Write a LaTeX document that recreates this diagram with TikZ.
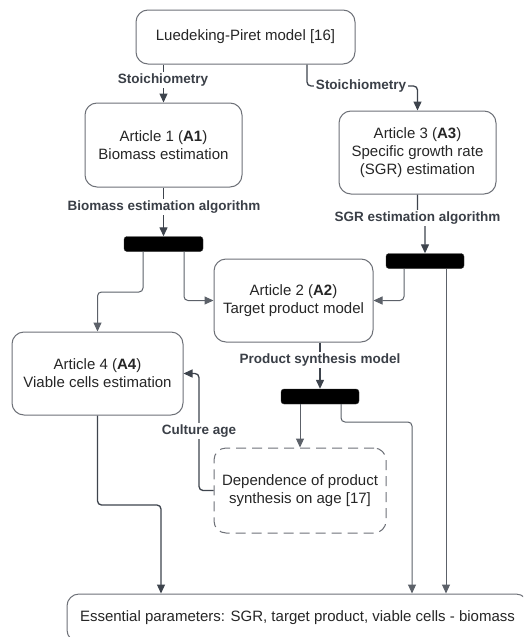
\documentclass[tikz,border=0pt]{standalone}
\usepackage{fontspec}
\setmainfont{Liberation Sans}
\usetikzlibrary{arrows.meta}
\definecolor{boxc}{HTML}{6E7178}
\definecolor{linec}{HTML}{3E444D}
\definecolor{linel}{HTML}{5C6169}
\definecolor{lblc}{HTML}{3A3F47}
\begin{document}
\begin{tikzpicture}[x=1pt,y=-1pt,
 box/.style={draw=boxc, line width=1pt, rounded corners=12pt, fill=white, align=center, inner sep=0pt, font=\fontsize{15}{18}\selectfont, text=black!85},
 bar/.style={fill=black, draw=black!80, rounded corners=3pt, minimum width=79pt, minimum height=15pt, inner sep=0pt},
 lbl/.style={fill=white, inner sep=1.5pt, font=\bfseries\fontsize{13.5}{16}\selectfont, text=lblc},
 conn/.style={draw=linec, line width=1.3pt, rounded corners=4pt, -{Triangle[length=9pt,width=8pt]}},
 connl/.style={draw=linel, line width=1pt, rounded corners=4pt, -{Triangle[length=9pt,width=8pt]}},
]
\clip (0,0) rectangle (523,637);
\fill[white] (0,0) rectangle (523,637);
% nodes
\node[box, minimum width=219pt, minimum height=54pt] (lp) at (245.5,37) {Luedeking-Piret model [16]};
\node[box, minimum width=157pt, minimum height=84pt] (a1) at (163.5,145) {Article 1 (\textbf{A1})\\Biomass estimation};
\node[box, minimum width=157pt, minimum height=83pt] (a3) at (417.5,152.5) {Article 3 (\textbf{A3})\\Specific growth rate\\(SGR) estimation};
\node[box, minimum width=159pt, minimum height=83pt] (a2) at (293.5,300.5) {Article 2 (\textbf{A2})\\Target product model};
\node[box, minimum width=171pt, minimum height=83pt] (a4) at (97.5,373.5) {Article 4 (\textbf{A4})\\Viable cells estimation};
\node[box, dash pattern=on 10pt off 6pt, minimum width=172pt, minimum height=85pt] (dep) at (300,490.5) {Dependence of product\\synthesis on age [17]};
\node[box, minimum width=461pt, minimum height=48pt] (fin) at (297.5,618) {Essential parameters: SGR, target product, viable cells - biomass};
\node[bar] (b1) at (163.5,244) {};
\node[bar, minimum width=78pt] (b2) at (425,261) {};
\node[bar, minimum width=78pt] (b3) at (320,396.5) {};
% helper coordinates
\coordinate (k2) at (307,86);
\coordinate (j3) at (417.5,218);
\coordinate (c1) at (143,292);
\coordinate (x184) at (184,0);
\coordinate (x404) at (404,0);
\coordinate (x446) at (446,0);
\coordinate (x300) at (300,0);
\coordinate (x341) at (341,0);
\coordinate (c3) at (412,422);
\coordinate (c4) at (199,0);
\coordinate (c5) at (161,505);
% connectors
\draw[conn] (lp.south -| a1.north) -- (a1.north);
\draw[conn] (lp.south -| k2) -- (k2) -| (a3.north);
\draw[conn] (a1.south) -- (b1.north);
\draw[conn] (a3.south) -- (j3) -- (j3 -| b2.north) -- (b2.north);
\draw[connl] (b1.south -| c1) -- (c1) -| (a4.north);
\draw[connl] (b1.south -| x184) |- (a2.west);
\draw[connl] (b2.south -| x404) |- (a2.east);
\draw[connl] (b2.south -| x446) -- (fin.north -| x446);
\draw[conn] (a2.south -| b3.north) -- (b3.north);
\draw[connl] (b3.south -| x300) -- (dep.north -| x300);
\draw[connl] (b3.south -| x341) |- (c3) -- (fin.north -| c3);
\draw[conn] (dep.west) -- (dep.west -| c4) |- (a4.east);
\draw[conn] (a4.south) |- (c5) -- (fin.north -| c5);
% labels
\node[lbl] (l1) at (163,80) {Stoichiometry};
\node[lbl] (l2) at (361,86) {Stoichiometry};
\node[lbl] (l3) at (164,207) {Biomass estimation algorithm};
\node[lbl] (l4) at (417.5,218) {SGR estimation algorithm};
\node[lbl] (l5) at (320,360) {Product synthesis model};
\node[lbl] (l6) at (199,431) {Culture age};
\end{tikzpicture}
\end{document}
